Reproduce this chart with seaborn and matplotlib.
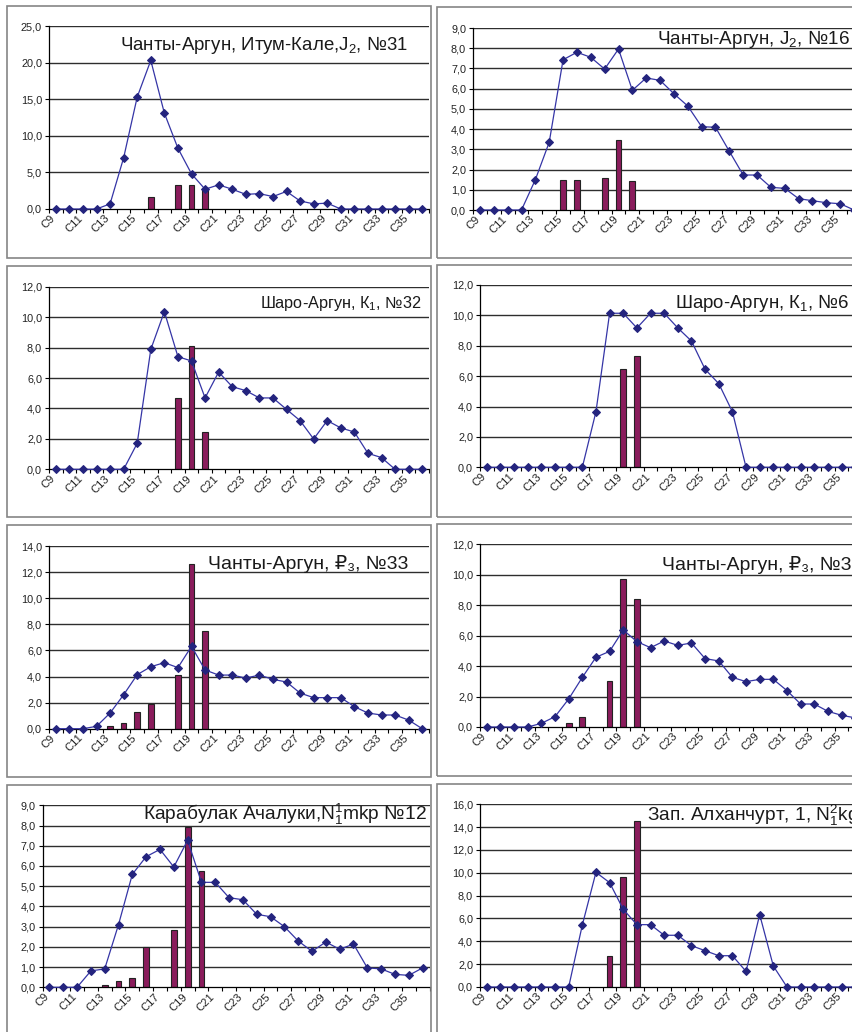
import numpy as np
import pandas as pd
import matplotlib
matplotlib.use("Agg")
import matplotlib.pyplot as plt
import matplotlib.transforms as mtransforms
import seaborn as sns
from matplotlib.patches import Rectangle
from matplotlib.ticker import FixedLocator, FuncFormatter

sns.set_theme(style="white")
plt.rcParams["font.family"] = ["Liberation Sans", "DejaVu Sans"]
plt.rcParams["mathtext.fontset"] = "custom"
plt.rcParams["mathtext.rm"] = "Liberation Sans"
plt.rcParams["mathtext.it"] = "Liberation Sans"
plt.rcParams["mathtext.bf"] = "Liberation Sans:bold"

categories = ["C9", "C10", "C11", "C12", "C13", "C14", "C15", "C16", "C17", "C18",
              "C19", "C20", "C21", "C22", "C23", "C24", "C25", "C26", "C27", "C28",
              "C29", "C30", "C31", "C32", "C33", "C34", "C35", "C36"]
tick_labels = ["C9", "C11", "C13", "C15", "C17", "C19", "C21", "C23", "C25", "C27",
               "C29", "C31", "C33", "C35"]
nan = np.nan

# --- Чанты-Аргун, Итум-Кале, J2, №31
line_31 = [0, 0, 0, 0, 0.7, 7.0, 15.3, 20.3, 13.1, 8.3, 4.8, 2.7, 3.3, 2.7, 2.0, 2.1,
           1.7, 2.4, 1.1, 0.7, 0.8, 0, 0, 0, 0, 0, 0, 0]
bars_31 = [nan, nan, nan, nan, nan, nan, nan, 1.7, nan, 3.3, 3.3, 2.7, nan, nan, nan, nan,
           nan, nan, nan, nan, nan, nan, nan, nan, nan, nan, nan, nan]
# --- Чанты-Аргун, J2, №16
line_16 = [0, 0, 0, 0, 1.5, 3.35, 7.43, 7.8, 7.55, 6.97, 7.96, 5.92, 6.53, 6.41, 5.75, 5.14,
           4.12, 4.09, 2.9, 1.73, 1.73, 1.12, 1.07, 0.56, 0.46, 0.36, 0.31, 0.0]
bars_16 = [nan, nan, nan, nan, nan, nan, 1.48, 1.48, nan, 1.58, 3.46, 1.43, nan, nan, nan, nan,
           nan, nan, nan, nan, nan, nan, nan, nan, nan, nan, nan, nan]
# --- Шаро-Аргун, K1, №32
line_32 = [0, 0, 0, 0, 0, 0, 1.71, 7.88, 10.36, 7.4, 7.12, 4.69, 6.39, 5.43, 5.17, 4.69,
           4.69, 3.94, 3.2, 1.99, 3.2, 2.72, 2.45, 1.05, 0.77, 0, 0, 0]
bars_32 = [nan, nan, nan, nan, nan, nan, nan, nan, nan, 4.7, 8.12, 2.45, nan, nan, nan, nan,
           nan, nan, nan, nan, nan, nan, nan, nan, nan, nan, nan, nan]
# --- Шаро-Аргун, K1, №6
line_6 = [0, 0, 0, 0, 0, 0, 0, 0, 3.66, 10.14, 10.14, 9.17, 10.14, 10.14, 9.17, 8.31,
          6.45, 5.51, 3.66, 0, 0, 0, 0, 0, 0, 0, 0, 0]
bars_6 = [nan, nan, nan, nan, nan, nan, nan, nan, nan, nan, 6.47, 7.33, nan, nan, nan, nan,
          nan, nan, nan, nan, nan, nan, nan, nan, nan, nan, nan, nan]
# --- Чанты-Аргун, P3, №33
line_33 = [0, 0, 0, 0.18, 1.2, 2.6, 4.14, 4.75, 5.06, 4.68, 6.31, 4.5, 4.11, 4.11, 3.88, 4.11,
           3.78, 3.58, 2.73, 2.38, 2.38, 2.38, 1.69, 1.2, 1.05, 1.05, 0.66, 0]
bars_33 = [nan, nan, nan, nan, 0.18, 0.43, 1.28, 1.92, nan, 4.11, 12.6, 7.51, nan, nan, nan, nan,
           nan, nan, nan, nan, nan, nan, nan, nan, nan, nan, nan, nan]
# --- Чанты-Аргун, P3, №3
line_3 = [0, 0, 0, 0, 0.24, 0.68, 1.84, 3.26, 4.58, 4.97, 6.37, 5.61, 5.21, 5.65, 5.36, 5.52,
          4.49, 4.34, 3.26, 2.98, 3.13, 3.13, 2.39, 1.51, 1.51, 1.03, 0.77, 0.6]
bars_3 = [nan, nan, nan, nan, nan, nan, 0.26, 0.64, nan, 3.0, 9.7, 8.41, nan, nan, nan, nan,
          nan, nan, nan, nan, nan, nan, nan, nan, nan, nan, nan, nan]
# --- Карабулак Ачалуки, N1 mkp, №12
line_12 = [0, 0, 0, 0.81, 0.91, 3.1, 5.59, 6.46, 6.82, 5.95, 7.27, 5.19, 5.19, 4.43, 4.33, 3.61,
           3.49, 3.0, 2.29, 1.78, 2.24, 1.88, 2.14, 0.96, 0.91, 0.64, 0.59, 0.96]
bars_12 = [nan, nan, nan, nan, 0.1, 0.3, 0.45, 2.0, nan, 2.84, 7.94, 5.75, nan, nan, nan, nan,
           nan, nan, nan, nan, nan, nan, nan, nan, nan, nan, nan, nan]
# --- Зап. Алханчурт, 1, N1 kg
line_1 = [0, 0, 0, 0, 0, 0, 0, 5.43, 10.04, 9.14, 6.8, 5.46, 5.46, 4.53, 4.53, 3.62,
          3.18, 2.74, 2.74, 1.37, 6.34, 1.84, 0, 0, 0, 0, 0, 0]
bars_1 = [nan, nan, nan, nan, nan, nan, nan, nan, nan, 2.74, 9.6, 14.57, nan, nan, nan, nan,
          nan, nan, nan, nan, nan, nan, nan, nan, nan, nan, nan, nan]

titles = [
    "Чанты-Аргун, Итум-Кале,J$_2$, №31",
    "Чанты-Аргун, J$_2$, №16",
    "Шаро-Аргун, К$_1$, №32",
    "Шаро-Аргун, К$_1$, №6",
    "Чанты-Аргун, \u20bd\u2083, №33",
    "Чанты-Аргун, \u20bd\u2083, №3",
    "Карабулак Ачалуки,N$_1^1$mkp №12",
    "Зап. Алханчурт, 1, N$_1^2$kg",
]
lines = [line_31, line_16, line_32, line_6, line_33, line_3, line_12, line_1]
bars = [bars_31, bars_16, bars_32, bars_6, bars_33, bars_3, bars_12, bars_1]
ymax = [25, 9, 12, 12, 14, 12, 9, 16]
ystep = [5, 1, 2, 2, 2, 2, 1, 2]

# layout in pixels (left, top, right, bottom)
W, H = 852, 1032
axes_px = [(49, 26, 429, 209), (473, 28, 861, 210),
           (49, 286.7, 429, 469.3), (480, 285, 862, 467.3),
           (49, 546, 429, 728.7), (480, 544.3, 862, 727),
           (42.5, 805.3, 429.5, 987.3), (480, 804.3, 862, 987)]
title_px = [(120, 50, 13.4), (657, 44.3, 13.6),
            (260, 308.3, 11.7), (675, 308.3, 13.4),
            (208, 569.3, 14.0), (662, 570, 14.0),
            (143, 820, 13.8), (647, 820.7, 13.8)]
frames_px = [(6.5, 5.5, 430.5, 258), (436.5, 6.5, 900, 258),
             (6.5, 265.5, 430.5, 517), (436.5, 264.5, 900, 517),
             (6.5, 524.5, 430.5, 777), (436.5, 523.5, 900, 776),
             (6.5, 784.5, 430.5, 1060), (436.5, 783.5, 900, 1060)]

LINE_C = "#3535a6"
MARK_C = "#24247e"
BAR_C = "#8a1c5c"
GRID_C = "#2e2e2e"

fig = plt.figure(figsize=(W / 100, H / 100), dpi=100)
fig.patch.set_facecolor("white")

for (l, t, r, b) in frames_px:
    fig.patches.append(Rectangle((l / W, 1 - b / H), (r - l) / W, (b - t) / H,
                                 transform=fig.transFigure, fill=False,
                                 edgecolor="#858585", linewidth=1.2))

pos = np.arange(len(categories))
fmt = FuncFormatter(lambda v, p: f"{v:.1f}".replace(".", ","))
label_shift = mtransforms.ScaledTranslation(-4 / 72, 0, fig.dpi_scale_trans)

for i in range(8):
    l, t, r, b = axes_px[i]
    ax = fig.add_axes([l / W, 1 - b / H, (r - l) / W, (b - t) / H])
    ax.set_facecolor("none")
    df_b = pd.DataFrame({"cat": categories, "val": bars[i]})
    sns.barplot(data=df_b, x="cat", y="val", order=categories, color=BAR_C,
                saturation=1, width=0.42, edgecolor="#222222", linewidth=0.8,
                errorbar=None, ax=ax, zorder=2)
    sns.lineplot(x=pos, y=lines[i], ax=ax, color=LINE_C, linewidth=0.9,
                 marker="D", markersize=4.1, markerfacecolor=MARK_C,
                 markeredgecolor=MARK_C, clip_on=False, zorder=3)
    ax.set_xlim(-0.5, len(categories) - 0.5)
    ax.set_ylim(0, ymax[i])
    ax.set_xlabel("")
    ax.set_ylabel("")
    yt = np.arange(0, ymax[i] + 0.001, ystep[i])
    ax.set_yticks(yt)
    ax.yaxis.set_major_formatter(fmt)
    for y in yt[1:]:
        ax.axhline(y, color=GRID_C, linewidth=1.0, zorder=0.5)
    # category boundary tick marks
    ax.xaxis.set_major_locator(FixedLocator(np.arange(-0.5, len(categories), 1.0)))
    ax.xaxis.set_major_formatter(FuncFormatter(lambda v, p: ""))
    lab_pos = [categories.index(c) for c in tick_labels]
    ax.xaxis.set_minor_locator(FixedLocator(lab_pos))
    ax.set_xticklabels(tick_labels, minor=True)
    ax.tick_params(axis="x", which="major", direction="out", length=3, width=0.8,
                   color="black", bottom=True)
    ax.tick_params(axis="x", which="minor", length=0, pad=3, labelsize=8,
                   bottom=True)
    for lab in ax.get_xticklabels(minor=True):
        lab.set_rotation(45)
        lab.set_ha("right")
        lab.set_va("top")
        lab.set_rotation_mode("anchor")
        lab.set_color("#222222")
        lab.set_transform(lab.get_transform() + label_shift)
    ax.tick_params(axis="y", direction="out", length=3, width=0.8, color="black",
                   pad=2, labelsize=7.8, left=True, labelcolor="#222222")
    for s in ["top", "right"]:
        ax.spines[s].set_visible(False)
    for s in ["left", "bottom"]:
        ax.spines[s].set_visible(True)
        ax.spines[s].set_color("black")
        ax.spines[s].set_linewidth(0.9)
    ax.grid(False)
    if ax.get_legend() is not None:
        ax.get_legend().remove()

    tx, ty, ts = title_px[i]
    fig.text(tx / W, 1 - ty / H, titles[i], fontsize=ts, ha="left", va="baseline",
             color="#1a1a1a")

fig.savefig("out.png", dpi=100, facecolor="white")
